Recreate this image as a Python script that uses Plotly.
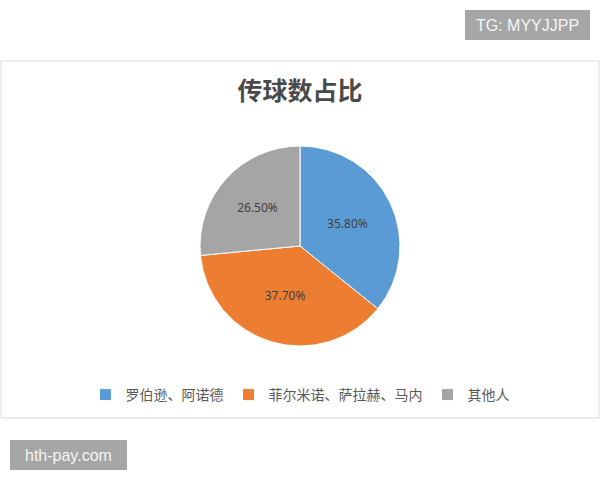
import plotly.graph_objects as go

labels = ['罗伯逊、阿诺德', '菲尔米诺、萨拉赫、马内', '其他人']
values = [35.8, 37.7, 26.5]
colors = ['#5B9BD5', '#ED7D31', '#A5A5A5']

W, H = 600, 480

fig = go.Figure()
fig.add_trace(go.Pie(
    labels=labels,
    values=values,
    sort=False,
    direction='clockwise',
    rotation=0,
    marker=dict(colors=colors, line=dict(color='white', width=1)),
    texttemplate='%{percent:.2%}',
    textposition='inside',
    insidetextorientation='horizontal',
    textfont=dict(color='#404040', size=12, family='Noto Sans'),
    hoverinfo='label+percent',
    domain=dict(x=[200 / W, 400 / W], y=[1 - 346 / H, 1 - 146 / H]),
))

# chart frame
fig.add_shape(type='rect', xref='paper', yref='paper',
              x0=1 / W, x1=599 / W, y0=1 - 418 / H, y1=1 - 61 / H,
              line=dict(color='#D9D9D9', width=1), fillcolor='rgba(0,0,0,0)', layer='below')

# watermark boxes
fig.add_shape(type='rect', xref='paper', yref='paper',
              x0=465 / W, x1=590 / W, y0=1 - 40 / H, y1=1 - 10 / H,
              line=dict(width=0), fillcolor='#A6A6A6')
fig.add_shape(type='rect', xref='paper', yref='paper',
              x0=10 / W, x1=127 / W, y0=1 - 470 / H, y1=1 - 440 / H,
              line=dict(width=0), fillcolor='#A6A6A6')
fig.add_annotation(x=527.5 / W, y=1 - 25 / H, xref='paper', yref='paper',
                   xanchor='center', yanchor='middle',
                   text='TG: MYYJJPP', showarrow=False,
                   font=dict(color='#F5F5F5', size=16, family='Liberation Sans'))
fig.add_annotation(x=68.5 / W, y=1 - 455 / H, xref='paper', yref='paper',
                   xanchor='center', yanchor='middle',
                   text='hth-pay.com', showarrow=False,
                   font=dict(color='#F5F5F5', size=16, family='Liberation Sans'))

fig.update_layout(
    width=W, height=H,
    margin=dict(l=0, r=0, t=0, b=0),
    paper_bgcolor='white',
    plot_bgcolor='white',
    title=dict(text='<b>传球数占比</b>', x=0.5, xanchor='center', y=1 - 91 / H, yanchor='middle',
               font=dict(size=25, color='#4A4A4A', family='Noto Sans CJK SC')),
    legend=dict(orientation='h', x=0.5, xanchor='center', y=1 - 395 / H, yanchor='middle',
                font=dict(size=14, color='#595959', family='Noto Sans CJK SC'),
                itemwidth=30, traceorder='normal'),
    showlegend=True,
)

fig.write_html('out.html', config={'displayModeBar': False},
               post_script="document.body.style.margin='0';")
